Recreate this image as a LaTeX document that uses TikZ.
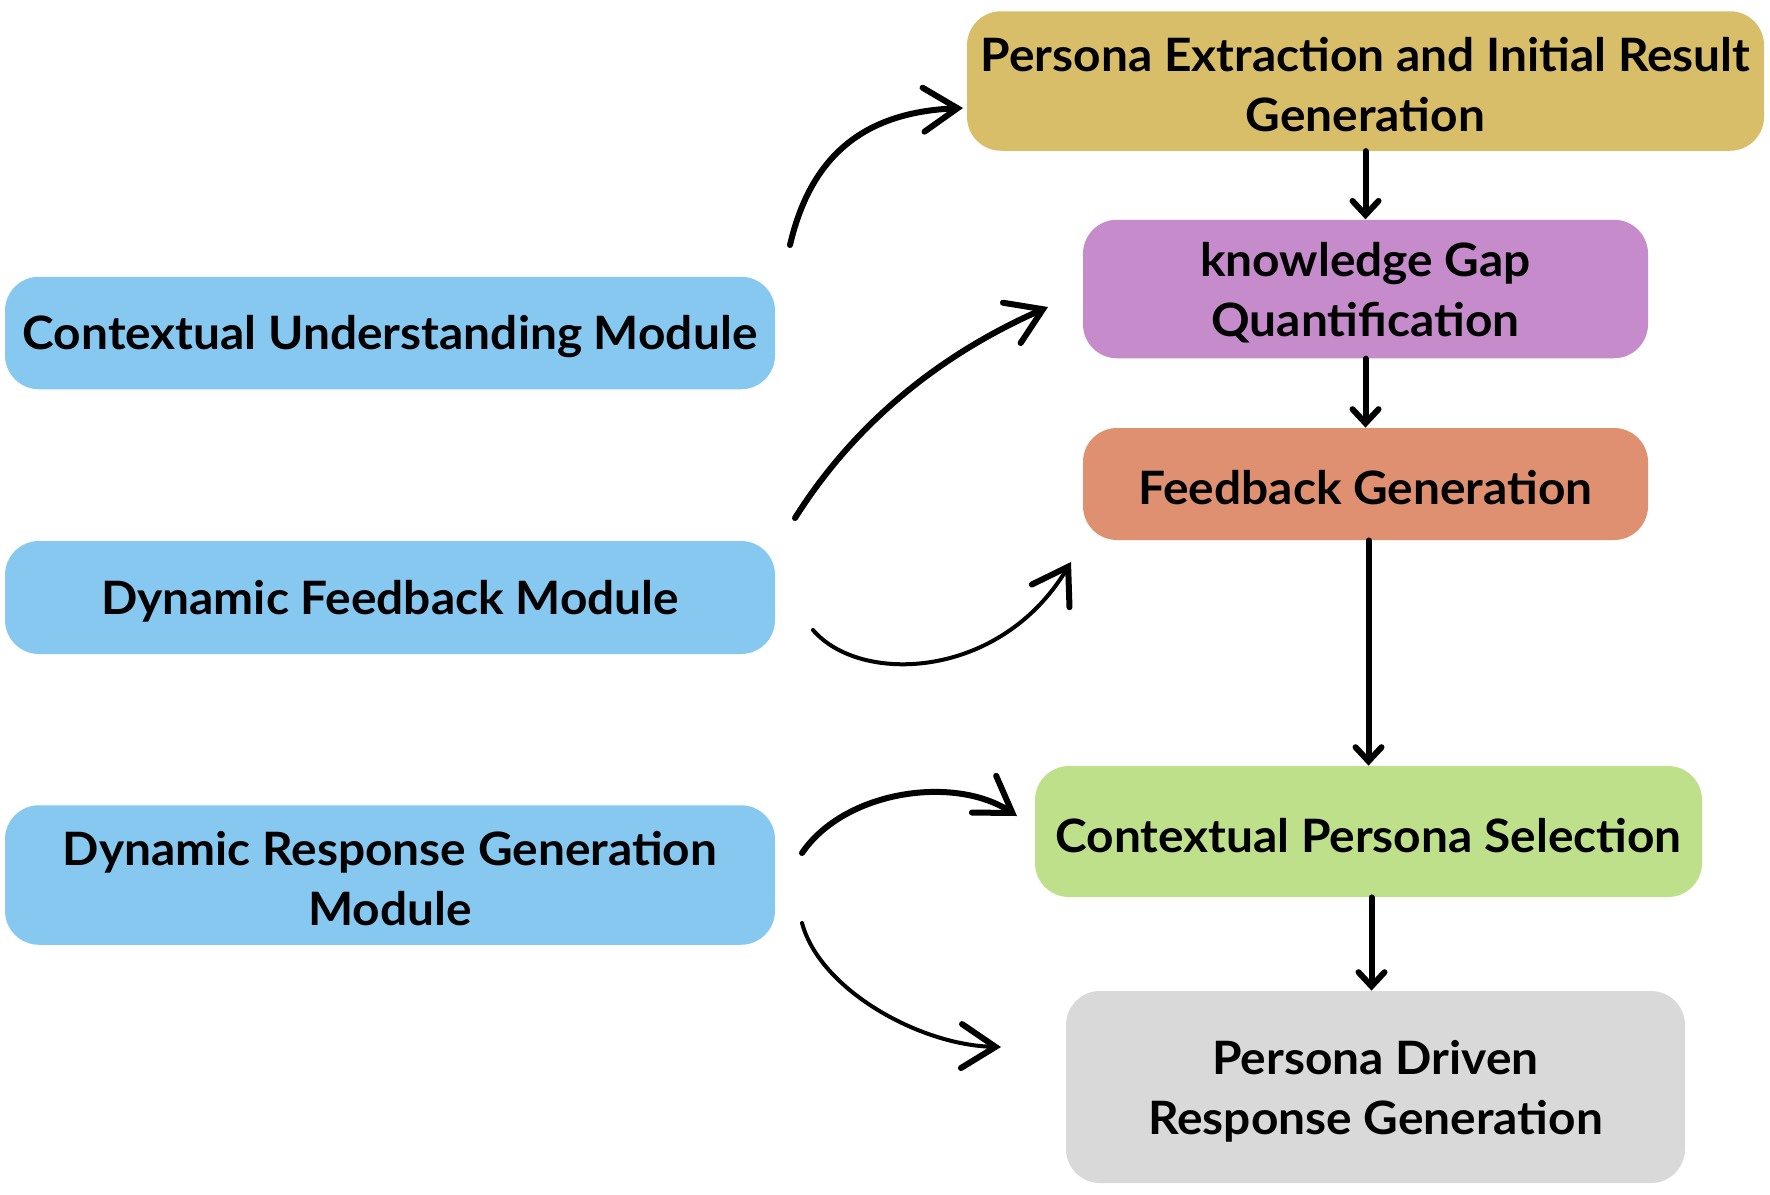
\documentclass[tikz,border=0pt]{standalone}
\usepackage{fontspec}
\setmainfont{Lato}[BoldFont={* Bold}, BoldFeatures={FakeStretch=1.04}]
\usetikzlibrary{arrows.meta}
\definecolor{cgold}{HTML}{D9BE6A}
\definecolor{cpurple}{HTML}{C68BCB}
\definecolor{corange}{HTML}{DF9070}
\definecolor{cgreen}{HTML}{BEE08A}
\definecolor{cgray}{HTML}{D9D9D9}
\definecolor{cblue}{HTML}{86C8F0}
\begin{document}
\begin{tikzpicture}[x=0.5pt,y=-0.5pt,
  box/.style={rounded corners=17pt, inner sep=0pt},
  txt/.style={inner sep=0pt, align=center,
    font=\bfseries\fontsize{23}{30}\selectfont, text=black},
  vline/.style={line width=3pt, line cap=round,
    -{Straight Barb[length=7pt,width=13pt,line cap=round]}},
  curvy/.style={line width=3pt, line cap=round,
    -{Straight Barb[length=17pt,width=22pt,line cap=round]}},
  thincurvy/.style={line width=2pt, line cap=round,
    -{Straight Barb[length=17pt,width=22pt,line cap=round,line width=3pt]}}]
\useasboundingbox[fill=white] (0,0) rectangle (1770,1194);

\node[box, fill=cgold, minimum width=398.5pt, minimum height=69.75pt] (gold) at (1365.5,81) {};
\node[box, fill=cpurple, minimum width=282.5pt, minimum height=69.25pt] (purple) at (1365.5,289) {};
\node[box, fill=corange, minimum width=282.5pt, minimum height=56pt] (orange) at (1365.5,484) {};
\node[box, fill=cgreen, minimum width=333.5pt, minimum height=65.5pt] (green) at (1368.5,831.5) {};
\node[box, fill=cgray, minimum width=309.5pt, minimum height=96pt] (gray) at (1375.5,1087) {};
\node[box, fill=cblue, minimum width=385pt, minimum height=56.25pt] (cum) at (390,333) {};
\node[box, fill=cblue, minimum width=385pt, minimum height=56.5pt] (dfm) at (390,597.5) {};
\node[box, fill=cblue, minimum width=385pt, minimum height=69.75pt] (drg) at (390,875) {};

\node[txt] (goldt) at ([yshift=-2pt]gold.center) {Persona Extraction and Initial Result\\Generation};
\node[txt] (purplet) at ([yshift=-2pt]purple.center) {knowledge Gap\\Quantification};
\node[txt] (oranget) at ([yshift=-2pt]orange.center) {Feedback Generation};
\node[txt] (greent) at ([yshift=-2pt]green.center) {Contextual Persona Selection};
\node[txt] (grayt) at ([yshift=-2pt]gray.center) {Persona Driven\\Response Generation};
\node[txt] (cumt) at ([yshift=-2pt]cum.center) {Contextual Understanding Module};
\node[txt] (dfmt) at ([yshift=-2pt]dfm.center) {Dynamic Feedback Module};
\node[txt] (drgt) at ([yshift=-2pt]drg.center) {Dynamic Response Generation\\Module};

% vertical arrows
\draw[vline] (gold.south) -- (purple.north);
\draw[vline] (purple.south) -- (orange.north);
\draw[vline] (green.north |- orange.south) -- (green.north);
\draw[vline] ([xshift=1.5pt]green.south) -- ([xshift=1.5pt]green.south |- gray.north);

% curved arrows
\coordinate (s1) at (790,245);  \coordinate (t1) at (963,108);
\coordinate (s2) at (795,518);  \coordinate (t2) at (1048,307);
\coordinate (s3) at (813,630);  \coordinate (t3) at (1071,562);
\coordinate (s4) at (802,853);  \coordinate (t4) at (1017,816);
\coordinate (s5) at (802,923);  \coordinate (t5) at (1001,1047);

\draw[curvy] (s1) .. controls (812,150) and (870,112) .. (t1);
\draw[curvy] (s2) .. controls (860,415) and (950,350) .. (t2);
\draw[thincurvy] (s3) .. controls (860,685) and (1000,680) .. (t3);
\draw[curvy] (s4) .. controls (845,790) and (955,775) .. (t4);
\draw[thincurvy] (s5) .. controls (820,990) and (920,1045) .. (t5);
\end{tikzpicture}
\end{document}
